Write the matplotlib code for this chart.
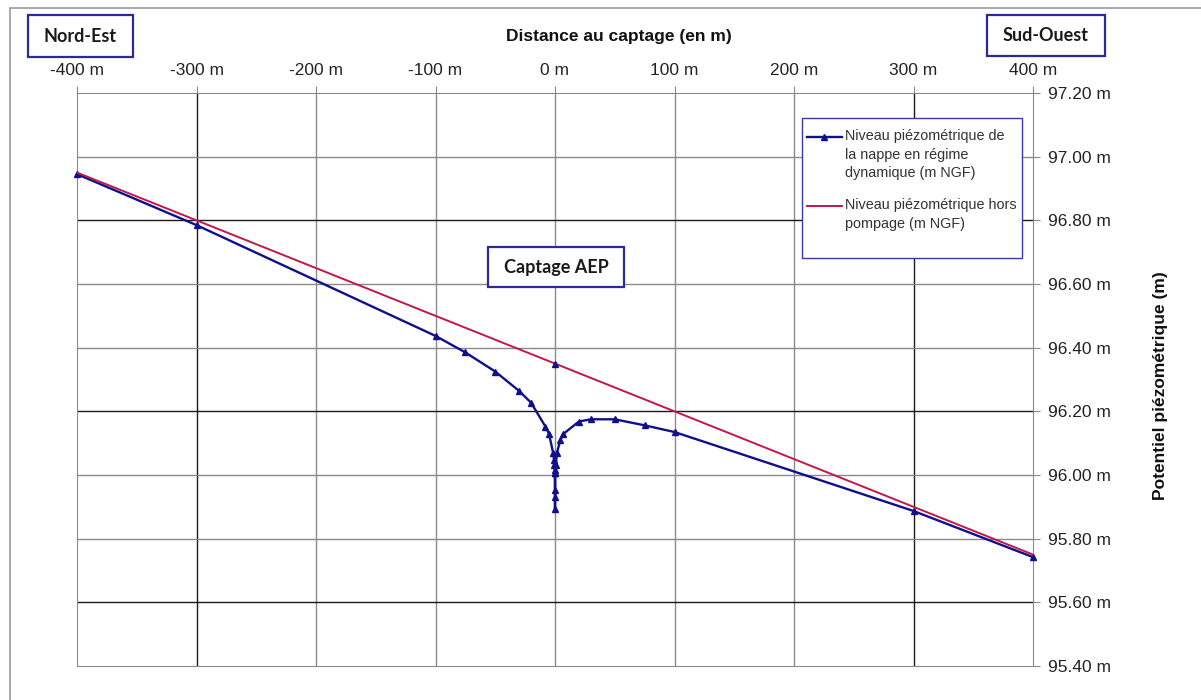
import numpy as np
import matplotlib.pyplot as plt
from matplotlib.patches import Rectangle
from matplotlib.legend_handler import HandlerLine2D
from matplotlib.ticker import FuncFormatter, MultipleLocator

# Niveau dynamique (pompage) - distance au captage [m] / niveau [m NGF]
dist_dyn = [-400, -300, -100, -75, -50, -30, -20, -8, -5, -1.5, -0.8, -0.5,
            -0.3, -0.2, -0.1, 0, 0.1, 0.3, 0.8, 1.5, 4.5, 7, 20, 30, 50, 75,
            100, 300, 400]
niv_dyn = [96.945, 96.785, 96.437, 96.385, 96.325, 96.264, 96.227, 96.152,
           96.129, 96.068, 96.047, 96.031, 96.016, 96.005, 95.953, 95.894,
           95.930, 96.005, 96.031, 96.068, 96.110, 96.129, 96.168, 96.175,
           96.175, 96.156, 96.135, 95.887, 95.742]

# Niveau hors pompage
dist_ref = [-400, 0, 400]
niv_ref = [96.95, 96.35, 95.75]

lab_dyn = "Niveau piézométrique de\nla nappe en régime\ndynamique (m NGF)"
lab_ref = "Niveau piézométrique hors\npompage (m NGF)"

W, H = 1201, 700
NAVY = '#10108a'
RED = '#c0184a'
BOXC = '#2a2a9a'
LEG_FS = 10.4
LEG_LS = 1.42


def fx(px):
    return px / W


def fy(py):
    return 1 - py / H


class FirstLineHandler(HandlerLine2D):
    # put the legend line on the first line of a multi-line label
    def __init__(self, nlines, **kw):
        super().__init__(**kw)
        self.nlines = nlines

    def create_artists(self, legend, orig_handle, xdescent, ydescent,
                       width, height, fontsize, trans):
        arts = super().create_artists(legend, orig_handle, xdescent, ydescent,
                                      width, height, fontsize, trans)
        shift = (self.nlines - 1) / 2 * fontsize * LEG_LS * 0.88
        for a in arts:
            a.set_ydata(np.asarray(a.get_ydata()) + shift)
        return arts


plt.rcParams['font.family'] = ['Liberation Sans', 'DejaVu Sans']

fig = plt.figure(figsize=(W / 100, H / 100), dpi=100)
ax = fig.add_axes([fx(77), fy(666), fx(1033) - fx(77), fy(93) - fy(666)])

# outer frame of the original sheet
fig.patches.append(Rectangle((fx(10), fy(760)), 1.2, fy(8) - fy(760),
                             transform=fig.transFigure, fill=False,
                             edgecolor='#9a9a9a', lw=1.2))

ax.set_xlim(-400, 400)
ax.set_ylim(95.40, 97.20)

# grid
for xv in np.arange(-300, 400, 100):
    ax.axvline(xv, color='#1a1a1a' if abs(xv) == 300 else '#8a8a8a',
               lw=1.0, zorder=0)
for yv in np.arange(95.6, 97.1, 0.2):
    dark = any(abs(yv - d) < 1e-6 for d in (95.6, 96.2, 96.8))
    ax.axhline(yv, color='#1a1a1a' if dark else '#8a8a8a', lw=1.0, zorder=0)

l1, = ax.plot(dist_dyn, niv_dyn, color=NAVY, lw=1.7, marker='^', ms=4,
              label=lab_dyn, zorder=3, clip_on=False)
l2, = ax.plot(dist_ref, niv_ref, color=RED, lw=1.4, label=lab_ref, zorder=4)
ax.plot(dist_ref[1], niv_ref[1], '^', color=NAVY, ms=4, zorder=5)

for s in ax.spines.values():
    s.set_color('#8a8a8a')

ax.xaxis.tick_top()
ax.yaxis.tick_right()
ax.xaxis.set_major_locator(MultipleLocator(100))
ax.yaxis.set_major_locator(MultipleLocator(0.2))
ax.xaxis.set_major_formatter(FuncFormatter(lambda v, p: f"{v:.0f} m"))
ax.yaxis.set_major_formatter(FuncFormatter(lambda v, p: f"{v:.2f} m"))
ax.tick_params(axis='both', direction='out', length=5, color='#8a8a8a',
               labelsize=12.5, labelcolor='#222222', pad=6)

# legend frame drawn as a plain box, legend itself without frame
ax.add_patch(Rectangle((fx(802), fy(258)), fx(1022) - fx(802),
                       fy(118) - fy(258), transform=fig.transFigure,
                       facecolor='white', edgecolor='#3a3aa8', lw=1.0,
                       zorder=6, clip_on=False))
leg = ax.legend([l1, l2], [lab_dyn, lab_ref],
                handler_map={l1: FirstLineHandler(3), l2: FirstLineHandler(2)},
                loc='upper left', bbox_to_anchor=(fx(807), fy(129)),
                bbox_transform=fig.transFigure, fontsize=LEG_FS,
                frameon=False, handlelength=2.4, handletextpad=0.2,
                labelspacing=1.25, borderpad=0, borderaxespad=0)
leg.set_zorder(7)
for t in leg.get_texts():
    t.set_color('#333333')
    t.set_linespacing(LEG_LS)

fig.text(fx(619), fy(37), "Distance au captage (en m)", ha='center',
         va='center', fontsize=12.5, fontweight='bold', color='#111111')
fig.text(fx(1161), fy(386), "Potentiel piézométrique (m)", ha='center',
         va='center', rotation=90, fontsize=12.5, fontweight='bold',
         color='#111111')

# text boxes
boxes = [("Nord-Est", 28, 15, 133, 57), ("Sud-Ouest", 987, 15, 1105, 56),
         ("Captage AEP", 488, 247, 624, 287)]
for txt, x0, y0, x1, y1 in boxes:
    fig.patches.append(Rectangle((fx(x0), fy(y1)), fx(x1) - fx(x0),
                                 fy(y0) - fy(y1), transform=fig.transFigure,
                                 facecolor='white', edgecolor=BOXC, lw=1.6,
                                 zorder=5))
    fig.text(fx((x0 + x1) / 2), fy((y0 + y1) / 2), txt, ha='center',
             va='center', fontsize=13, fontweight='bold', color='#1a1a1a',
             family=['Lato', 'DejaVu Sans'], zorder=6)

fig.savefig('out.png', dpi=100)
